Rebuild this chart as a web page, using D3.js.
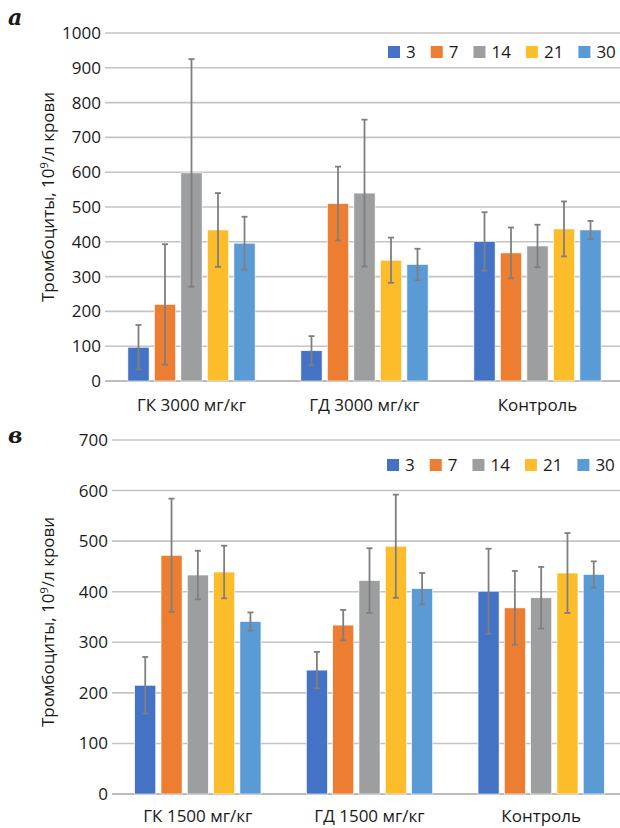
<!DOCTYPE html>
<html>
<head>
  <meta charset="UTF-8">
  <title>Тромбоциты</title>
  <script src="https://cdn.jsdelivr.net/npm/d3@7"></script>
  <style>
    body { margin: 0; background: #fff; }
    text { font-family: "Open Sans", "Noto Sans", sans-serif; fill: #1a1a1a; }
  </style>
</head>
<body>
<svg></svg>
<script>
// series = days
const series = ["3", "7", "14", "21", "30"];
const colors = ["#4472c4", "#ed7d31", "#9c9e9f", "#fdbd2b", "#5b9bd5"];

// panel a
const groupsA = ["ГК 3000 мг/кг", "ГД 3000 мг/кг", "Контроль"];
const meansA = [[97, 220, 598, 434, 396], [87, 510, 540, 347, 335], [401, 368, 388, 437, 434]];
const errsA = [[64, 173, 327, 106, 76], [42, 106, 211, 65, 45], [84, 73, 61, 79, 26]];
const ticksA = [0, 100, 200, 300, 400, 500, 600, 700, 800, 900, 1000];

// panel в
const groupsB = ["ГК 1500 мг/кг", "ГД 1500 мг/кг", "Контроль"];
const meansB = [[215, 472, 433, 439, 341], [245, 334, 422, 490, 406], [401, 368, 388, 437, 434]];
const errsB = [[56, 112, 48, 52, 18], [36, 30, 64, 102, 31], [84, 73, 61, 79, 26]];
const ticksB = [0, 100, 200, 300, 400, 500, 600, 700];

const W = 620, H = 828;
const svg = d3.select("svg").attr("width", W).attr("height", H);

function panel(o) {
  const g = svg.append("g");
  const y = d3.scaleLinear().domain([0, d3.max(o.ticks)]).range([o.bottom, o.top]);
  const x0 = d3.scaleBand().domain(o.groups).range([o.left, o.right])
    .paddingInner(0.234).paddingOuter(0.117);
  const x1 = d3.scaleBand().domain(series).range([0, x0.bandwidth()])
    .paddingInner(0.2).paddingOuter(0.1);

  // grid
  g.append("g").selectAll("line").data(o.ticks).join("line")
    .attr("x1", o.left).attr("x2", W + 10)
    .attr("y1", d => y(d)).attr("y2", d => y(d))
    .attr("stroke", d => d === 0 ? "#a6a6a6" : "#c4c4c4")
    .attr("stroke-width", 1.6);

  // tick labels
  g.append("g").selectAll("text").data(o.ticks).join("text")
    .attr("x", o.left - 4).attr("y", d => y(d)).attr("dy", "0.35em")
    .attr("text-anchor", "end").attr("font-size", 17)
    .text(d => d);

  // bars
  const rows = [];
  o.groups.forEach((gr, gi) => series.forEach((s, si) => {
    rows.push({ gr, s, si, v: o.means[gi][si], e: o.errs[gi][si] });
  }));

  g.append("g").selectAll("rect").data(rows).join("rect")
    .attr("x", d => x0(d.gr) + x1(d.s))
    .attr("width", x1.bandwidth())
    .attr("y", d => y(d.v))
    .attr("height", d => y(0) - y(d.v))
    .attr("fill", d => colors[d.si])
    .attr("stroke", "#fff").attr("stroke-width", 0.6);

  // error bars
  const eb = g.append("g").attr("stroke", "#7f7f7f").attr("stroke-width", 1.8);
  rows.forEach(d => {
    const cx = x0(d.gr) + x1(d.s) + x1.bandwidth() / 2;
    const hi = y(d.v + d.e), lo = y(Math.max(0, d.v - d.e));
    eb.append("line").attr("x1", cx).attr("x2", cx).attr("y1", hi).attr("y2", lo);
    eb.append("line").attr("x1", cx - 3).attr("x2", cx + 3).attr("y1", hi).attr("y2", hi);
    eb.append("line").attr("x1", cx - 3).attr("x2", cx + 3).attr("y1", lo).attr("y2", lo);
  });

  // category labels
  g.append("g").selectAll("text").data(o.groups).join("text")
    .attr("x", d => x0(d) + x0.bandwidth() / 2)
    .attr("y", o.catY)
    .attr("text-anchor", "middle").attr("font-size", 17)
    .text(d => d);

  // y title
  const t = g.append("text")
    .attr("transform", `translate(${o.titleX},${o.titleY}) rotate(-90)`)
    .attr("text-anchor", "middle").attr("font-size", 17);
  t.append("tspan").text("Тромбоциты, 10");
  t.append("tspan").attr("dy", -6).attr("font-size", 11).text("9");
  t.append("tspan").attr("dy", 6).text("/л крови");

  // legend
  const leg = g.append("g").attr("transform", `translate(${o.legX},${o.legY})`);
  let lx = 0;
  series.forEach((s, i) => {
    leg.append("rect").attr("x", lx).attr("y", -6).attr("width", 12).attr("height", 12)
      .attr("fill", colors[i]);
    const tx = leg.append("text").attr("x", lx + 18).attr("y", 0).attr("dy", "0.35em")
      .attr("font-size", 17).text(s);
    lx += 18 + tx.node().getComputedTextLength() + 15;
  });

  // panel letter
  svg.append("text").attr("x", 8).attr("y", o.letterY)
    .style("font-family", "'DejaVu Serif', 'Liberation Serif', serif")
    .attr("font-weight", "bold").attr("font-style", "italic").attr("font-size", 22)
    .text(o.letter);
}

panel({
  groups: groupsA, means: meansA, errs: errsA, ticks: ticksA,
  left: 105, right: 624, top: 33, bottom: 381,
  catY: 411, titleX: 54, titleY: 197, legX: 388, legY: 52,
  letter: "а", letterY: 25
});

panel({
  groups: groupsB, means: meansB, errs: errsB, ticks: ticksB,
  left: 112, right: 627, top: 440, bottom: 794,
  catY: 822, titleX: 54, titleY: 622, legX: 387, legY: 465,
  letter: "в", letterY: 443
});
</script>
</body>
</html>
